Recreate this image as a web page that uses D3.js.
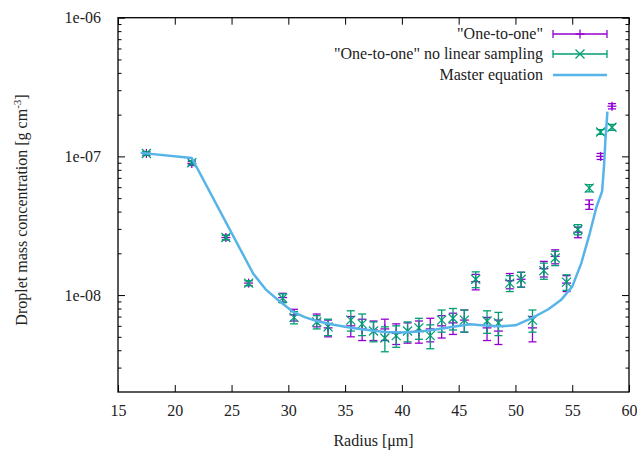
<!DOCTYPE html>
<html><head><meta charset="utf-8">
<script src="https://cdn.jsdelivr.net/npm/d3@7"></script>
<style>
body{margin:0;background:#fff;}
text{font-family:"Liberation Serif","Times New Roman",serif;fill:#222;}
</style></head>
<body><svg id="c" width="637" height="451"></svg>
<script>
// ---- data ----
const radius = [17.5,21.5,24.5,26.5,29.5,30.5,32.5,33.5,35.5,36.5,37.5,38.5,39.5,40.5,41.5,42.5,43.5,44.5,45.5,46.5,47.5,48.5,49.5,50.5,51.5,52.5,53.5,54.5,55.5,56.5,57.5,58.5];
const oneToOne = [1.05e-7,8.9e-8,2.6e-8,1.22e-8,9.6e-9,7.2e-9,6.6e-9,5.8e-9,6.0e-9,5.7e-9,5.6e-9,5.7e-9,5.3e-9,5.4e-9,5.5e-9,5.7e-9,6.0e-9,6.3e-9,6.6e-9,1.25e-8,5.8e-9,5.5e-9,1.27e-8,1.3e-8,5.8e-9,1.55e-8,1.9e-8,1.22e-8,2.84e-8,4.5e-8,1.0e-7,2.3e-7];
const oneToOneErr = [3e-9,3e-9,1e-9,5e-10,7e-10,7e-10,7e-10,8e-10,1.0e-9,1.0e-9,9e-10,1.0e-9,9e-10,9e-10,1.0e-9,1.1e-9,1.1e-9,1.1e-9,1.2e-9,1.6e-9,1.1e-9,1.1e-9,1.6e-9,1.6e-9,1.2e-9,2e-9,2.2e-9,1.6e-9,2.5e-9,3.5e-9,5e-9,1e-8];
const noLinear = [1.05e-7,9.0e-8,2.6e-8,1.22e-8,9.5e-9,6.9e-9,6.4e-9,5.9e-9,6.6e-9,6.2e-9,5.5e-9,4.9e-9,5.1e-9,5.5e-9,5.8e-9,5.1e-9,6.6e-9,6.8e-9,6.6e-9,1.3e-8,6.5e-9,6.3e-9,1.22e-8,1.3e-8,6.6e-9,1.5e-8,1.85e-8,1.24e-8,2.97e-8,5.9e-8,1.5e-7,1.62e-7];
const noLinearErr = [3e-9,3e-9,1e-9,5e-10,7e-10,7e-10,7e-10,8e-10,1.1e-9,1.1e-9,9e-10,1.0e-9,9e-10,9e-10,1.0e-9,1.0e-9,1.2e-9,1.2e-9,1.2e-9,1.7e-9,1.2e-9,1.2e-9,1.6e-9,1.6e-9,1.2e-9,2e-9,2.2e-9,1.6e-9,2.5e-9,3.5e-9,6e-9,8e-9];
const masterR = [17.0,21.5,26.9,28.0,29.2,30.5,31.5,32.5,34.0,35.5,37.0,38.5,40.0,41.5,43.0,44.5,46.0,47.0,48.5,50.0,51.4,52.9,54.0,55.0,55.8,56.55,57.13,57.63,57.8,57.92,58.1];
const masterV = [1.06e-7,9.74e-8,1.43e-8,1.1e-8,9.06e-9,7.5e-9,6.9e-9,6.5e-9,6.1e-9,5.82e-9,5.6e-9,5.42e-9,5.37e-9,5.45e-9,5.65e-9,5.9e-9,6.15e-9,6.05e-9,5.95e-9,6.05e-9,6.8e-9,7.9e-9,9.2e-9,1.15e-8,1.7e-8,2.8e-8,4.3e-8,5.6e-8,8.5e-8,1.3e-7,2.1e-7];
const xTicks = [15,20,25,30,35,40,45,50,55,60];
const yTicks = [1e-8,1e-7,1e-6];
const yTickLabels = ["1e-08","1e-07","1e-06"];
const yMinor = [3e-9,4e-9,5e-9,6e-9,7e-9,8e-9,9e-9,2e-8,3e-8,4e-8,5e-8,6e-8,7e-8,8e-8,9e-8,2e-7,3e-7,4e-7,5e-7,6e-7,7e-7,8e-7,9e-7];
const seriesNames = ['"One-to-one"','"One-to-one" no linear sampling','Master equation'];
const colors = ["#9400d3","#009e73","#56b4e9"];

// ---- layout ----
const L=118,R=629,T=17.7,B=392;
const svg=d3.select("#c");
const x=d3.scaleLinear().domain([15,60]).range([L,R]);
const y=d3.scaleLog().domain([2e-9,1e-6]).range([B,T]);
const fs=16;

function clean(g){g.select(".domain").remove();g.selectAll("line").attr("stroke","#000");}
svg.append("g").attr("transform",`translate(0,${B})`)
  .call(d3.axisBottom(x).tickValues(xTicks).tickSize(-7).tickPadding(13).tickFormat(d3.format("d")))
  .call(clean).selectAll("text").attr("font-size",fs).attr("font-family","Liberation Serif").attr("fill","#222");
svg.append("g").attr("transform",`translate(0,${T})`)
  .call(d3.axisTop(x).tickValues(xTicks).tickSize(-7).tickFormat(""))
  .call(clean);
svg.append("g").attr("transform",`translate(${L},0)`)
  .call(d3.axisLeft(y).tickValues(yTicks).tickSize(-7).tickPadding(17).tickFormat((d,i)=>yTickLabels[i]))
  .call(clean).selectAll("text").attr("font-size",fs).attr("font-family","Liberation Serif").attr("fill","#222");
svg.append("g").attr("transform",`translate(${L},0)`)
  .call(d3.axisLeft(y).tickValues(yMinor).tickSize(-3.5).tickFormat(""))
  .call(clean);
svg.append("g").attr("transform",`translate(${R},0)`)
  .call(d3.axisRight(y).tickValues(yTicks).tickSize(-7).tickFormat(""))
  .call(clean);
svg.append("g").attr("transform",`translate(${R},0)`)
  .call(d3.axisRight(y).tickValues(yMinor).tickSize(-3.5).tickFormat(""))
  .call(clean);
svg.append("rect").attr("x",L).attr("y",T).attr("width",R-L).attr("height",B-T)
  .attr("fill","none").attr("stroke","#000").attr("stroke-width",1.3);

svg.append("text").attr("x",(L+R)/2).attr("y",446).attr("text-anchor","middle").attr("font-size",fs).text("Radius [μm]");
const yl=svg.append("text").attr("transform","translate(27,210) rotate(-90)").attr("text-anchor","middle").attr("font-size",fs);
yl.append("tspan").text("Droplet mass concentration [g cm");
yl.append("tspan").attr("dy",-6).attr("font-size",11).text("-3");
yl.append("tspan").attr("dy",6).text("]");

const cap=4;
function drawSym(g,cx,cy,sym){
  const s=4.5;
  if(sym==="plus"){
    g.append("line").attr("x1",cx-s).attr("x2",cx+s).attr("y1",cy).attr("y2",cy);
    g.append("line").attr("x1",cx).attr("x2",cx).attr("y1",cy-s).attr("y2",cy+s);
  } else {
    g.append("line").attr("x1",cx-s).attr("x2",cx+s).attr("y1",cy-s).attr("y2",cy+s);
    g.append("line").attr("x1",cx-s).attr("x2",cx+s).attr("y1",cy+s).attr("y2",cy-s);
  }
}
function errSeries(vals,errs,col,sym){
  const g=svg.append("g").attr("stroke",col).attr("stroke-width",1.3).attr("fill","none");
  radius.forEach((r,i)=>{
    const cx=x(r),y0=y(vals[i]-errs[i]),y1=y(vals[i]+errs[i]);
    g.append("line").attr("x1",cx).attr("x2",cx).attr("y1",y0).attr("y2",y1);
    g.append("line").attr("x1",cx-cap).attr("x2",cx+cap).attr("y1",y0).attr("y2",y0);
    g.append("line").attr("x1",cx-cap).attr("x2",cx+cap).attr("y1",y1).attr("y2",y1);
    drawSym(g,cx,y(vals[i]),sym);
  });
}
errSeries(oneToOne,oneToOneErr,colors[0],"plus");
errSeries(noLinear,noLinearErr,colors[1],"cross");

const master=masterR.map((r,i)=>[r,masterV[i]]);
svg.append("path").datum(master)
  .attr("d",d3.line().x(d=>x(d[0])).y(d=>y(d[1])))
  .attr("fill","none").attr("stroke",colors[2]).attr("stroke-width",2.5).attr("stroke-linejoin","round");

const legY=[34,54,75];
const lx0=553,lx1=607,ltx=543;
seriesNames.forEach((n,i)=>{
  svg.append("text").attr("x",ltx).attr("y",legY[i]+5).attr("text-anchor","end").attr("font-size",fs).text(n);
  const g=svg.append("g").attr("stroke",colors[i]).attr("stroke-width",i===2?2.5:1.3).attr("fill","none");
  g.append("line").attr("x1",lx0).attr("x2",lx1).attr("y1",legY[i]).attr("y2",legY[i]);
  if(i<2){
    g.append("line").attr("x1",lx0).attr("x2",lx0).attr("y1",legY[i]-cap).attr("y2",legY[i]+cap);
    g.append("line").attr("x1",lx1).attr("x2",lx1).attr("y1",legY[i]-cap).attr("y2",legY[i]+cap);
    drawSym(g,(lx0+lx1)/2,legY[i],i===0?"plus":"cross");
  }
});
</script></body></html>
